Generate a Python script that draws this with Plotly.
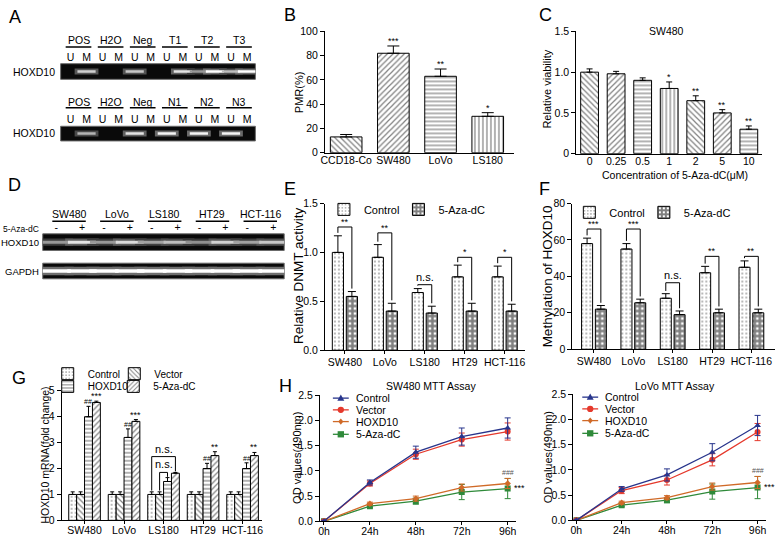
import plotly.graph_objects as go

W, H = 778, 542
FONT = "Arial, Liberation Sans, sans-serif"

# ---------------- data ----------------
# Panel A (MSP gels)
A_groups_top = ["POS", "H2O", "Neg", "T1", "T2", "T3"]
A_groups_bot = ["POS", "H2O", "Neg", "N1", "N2", "N3"]
A_lane_labels = ["U", "M"]
A_band_top = [0, 0.75, 0, 0, 0.7, 0, 0, 0.85, 0.45, 1.0, 0.65, 1.0]
A_band_bot = [0, 0.6, 0, 0, 0.85, 0, 0.95, 0, 0.95, 0, 0.95, 0]

# Panel B
B_cats = ["CCD18-Co", "SW480", "LoVo", "LS180"]
B_vals = [13, 82, 63, 30]
B_err = [2, 6, 6, 3]
B_sig = ["", "***", "**", "*"]
B_patterns = ["\\", "/", "-", "|"]

# Panel C
C_cats = ["0", "0.25", "0.5", "1", "2", "5", "10"]
C_vals = [1.0, 0.98, 0.9, 0.8, 0.65, 0.5, 0.3]
C_err = [0.04, 0.03, 0.03, 0.08, 0.06, 0.04, 0.04]
C_sig = ["", "", "", "*", "**", "**", "**"]
C_patterns = ["\\", "/", "-", "|", "\\", "/", "-"]

# Panel D (RT-PCR gels)
D_groups = ["SW480", "LoVo", "LS180", "HT29", "HCT-116"]
D_lane_labels = ["-", "+"]
D_hoxd10 = [0.45, 0.85, 0.45, 0.8, 0.5, 0.65, 0.4, 0.75, 0.5, 0.7]
D_gapdh = [1.0, 1.0, 1.0, 1.0, 1.0, 1.0, 1.0, 1.0, 1.0, 1.0]

# Panels E / F
cell_lines = ["SW480", "LoVo", "LS180", "HT29", "HCT-116"]
E_ctrl = [1.0, 0.95, 0.59, 0.75, 0.75]
E_ctrl_err = [0.17, 0.13, 0.04, 0.12, 0.11]
E_aza = [0.55, 0.40, 0.38, 0.40, 0.40]
E_aza_err = [0.05, 0.08, 0.07, 0.08, 0.07]
E_bracket = [1.26, 1.20, 0.67, 0.95, 0.95]
E_sig = ["**", "**", "n.s.", "*", "*"]

F_ctrl = [58, 55, 28, 42, 45]
F_ctrl_err = [3, 3, 2.5, 3.5, 3.5]
F_aza = [22, 25.5, 19, 20, 20]
F_aza_err = [2, 2, 2, 2, 2]
F_bracket = [66, 66, 36.5, 51, 51]
F_sig = ["***", "***", "n.s.", "**", "**"]

# Panel G
G_ctrl = [1.0, 1.0, 1.0, 1.0, 1.0]
G_ctrl_err = [0.1, 0.1, 0.1, 0.1, 0.1]
G_vec = [1.0, 1.0, 1.0, 1.0, 1.0]
G_vec_err = [0.1, 0.1, 0.1, 0.1, 0.1]
G_hox = [4.0, 3.2, 1.5, 2.0, 2.0]
G_hox_err = [0.4, 0.33, 0.15, 0.2, 0.22]
G_aza = [4.55, 3.82, 1.82, 2.5, 2.5]
G_aza_err = [0.05, 0.07, 0.03, 0.15, 0.12]
G_hox_sig = ["##", "##", "", "##", "##"]
G_aza_sig = ["***", "***", "", "**", "**"]
G_ns_outer = 2.46
G_ns_inner = 1.85

# Panel H (MTT)
hours = [0, 24, 48, 72, 96]
hour_labels = ["0h", "24h", "48h", "72h", "96h"]
H1 = {
    "Control": ([0, 0.77, 1.37, 1.68, 1.85], [0.02, 0.05, 0.12, 0.17, 0.2]),
    "Vector": ([0, 0.75, 1.33, 1.62, 1.78], [0.02, 0.05, 0.1, 0.13, 0.17]),
    "HOXD10": ([0, 0.35, 0.45, 0.67, 0.75], [0.01, 0.03, 0.05, 0.07, 0.1]),
    "5-Aza-dC": ([0, 0.3, 0.4, 0.58, 0.65], [0.01, 0.03, 0.06, 0.15, 0.2]),
}
H2 = {
    "Control": ([0, 0.62, 0.9, 1.35, 1.88], [0.02, 0.05, 0.12, 0.17, 0.2]),
    "Vector": ([0, 0.59, 0.8, 1.2, 1.75], [0.02, 0.06, 0.1, 0.12, 0.17]),
    "HOXD10": ([0, 0.35, 0.45, 0.67, 0.75], [0.01, 0.03, 0.04, 0.07, 0.12]),
    "5-Aza-dC": ([0, 0.3, 0.4, 0.57, 0.65], [0.01, 0.03, 0.05, 0.15, 0.22]),
}
H_colors = {"Control": "#28358c", "Vector": "#e5392c", "HOXD10": "#d06a28", "5-Aza-dC": "#2f8a3a"}
H_symbols = {"Control": "triangle-up", "Vector": "circle", "HOXD10": "diamond", "5-Aza-dC": "square"}

# ---------------- helpers ----------------
def px(x):
    return x / W

def py(y):
    return 1 - y / H

def xd(a, b):
    return [px(a), px(b)]

def yd(top, bot):
    return [py(bot), py(top)]

fig = go.Figure()
axes = {}
annotations = []
shapes = []
legends = {}
tickfont = dict(size=10.5, family=FONT, color="black")

def sfx(i):
    return "" if i == 1 else str(i)

def add_axes(i, xdom, ydom, xkw, ykw):
    s = sfx(i)
    axes["xaxis" + s] = dict(domain=xdom, anchor="y" + s, **xkw)
    axes["yaxis" + s] = dict(domain=ydom, anchor="x" + s, **ykw)

def ystyle(rng, **kw):
    d = dict(range=rng, showline=True, linecolor="black", linewidth=1, ticks="outside",
             ticklen=4, tickwidth=1, tickcolor="black", showgrid=False, zeroline=False,
             tickfont=tickfont, fixedrange=True)
    d.update(kw)
    return d

def xstyle(rng, tickvals, ticktext, ticks="outside", **kw):
    d = dict(range=rng, showline=True, linecolor="black", linewidth=1, ticks=ticks,
             ticklen=3, tickwidth=1, tickcolor="black", showgrid=False, zeroline=False,
             tickvals=tickvals, ticktext=ticktext, tickfont=tickfont, fixedrange=True)
    d.update(kw)
    return d

def ann(text, x, y, size=10.5, **kw):
    d = dict(text=text, x=px(x), y=py(y), xref="paper", yref="paper", showarrow=False,
             xanchor="center", yanchor="middle",
             font=dict(size=size, family=FONT, color="black"))
    d.update(kw)
    annotations.append(d)

def data_ann(i, text, x, y, size=9, **kw):
    s = sfx(i)
    d = dict(text=text, x=x, y=y, xref="x" + s, yref="y" + s, showarrow=False,
             xanchor="center", yanchor="bottom",
             font=dict(size=size, family=FONT, color="black"))
    d.update(kw)
    annotations.append(d)

def add_legend(key, x, y, size=11):
    legends[key] = dict(orientation="h", bgcolor="rgba(0,0,0,0)", xanchor="left",
                        yanchor="middle", x=px(x), y=py(y),
                        font=dict(size=size, family=FONT, color="black"),
                        itemclick=False, itemdoubleclick=False)

# ---------------- gels ----------------
def gel(i, xdom, ydom, rng, lane_x, lane_text, show_labels, intensity, band_len, band_w):
    s = sfx(i)
    add_axes(i, xdom, ydom,
             dict(range=rng, showgrid=False, zeroline=False, showline=False, ticks="",
                  side="top", tickvals=lane_x, ticktext=lane_text,
                  showticklabels=show_labels, tickfont=tickfont, fixedrange=True),
             dict(range=[0, 1], visible=False, fixedrange=True))
    shapes.append(dict(type="rect", xref="x" + s + " domain", yref="y" + s + " domain",
                       x0=0, x1=1, y0=0, y1=1, fillcolor="#0a0a0a",
                       line=dict(color="#6a6a6a", width=1), layer="below"))
    xs = [x for x, v in zip(lane_x, intensity) if v > 0]
    vs = [v for v in intensity if v > 0]
    glow = ["rgb({0},{0},{0})".format(int(20 + 90 * v)) for v in vs]
    core = ["rgb({0},{0},{0})".format(int(70 + 185 * v)) for v in vs]
    for cols, lw, extra in [(glow, band_w * 2.4, 4), (core, band_w, 0)]:
        fig.add_trace(go.Scatter(
            x=xs, y=[0.5] * len(xs), mode="markers", xaxis="x" + s, yaxis="y" + s,
            marker=dict(symbol="line-ew", size=band_len + extra, color=cols,
                        line=dict(color=cols, width=lw)),
            showlegend=False, hoverinfo="skip"))

def gel_groups(i, groups, y_text, y_line, half):
    s = sfx(i)
    for g, name in enumerate(groups):
        annotations.append(dict(text=name, x=g, y=py(y_text), xref="x" + s, yref="paper",
                                showarrow=False, xanchor="center", yanchor="middle",
                                font=dict(size=10.5, family=FONT, color="black")))
        shapes.append(dict(type="line", xref="x" + s, yref="paper", x0=g - half, x1=g + half,
                           y0=py(y_line), y1=py(y_line), line=dict(color="black", width=1.5)))

A_lane_x = [g + o for g in range(len(A_groups_top)) for o in (-0.25, 0.25)]
A_text = A_lane_labels * len(A_groups_top)
A_rng = [-0.557, 5.51]
gel(1, xd(57, 253), yd(59, 75), A_rng, A_lane_x, A_text, True, A_band_top, 13, 2.5)
gel(2, xd(57, 253), yd(123, 138), A_rng, A_lane_x, A_text, True, A_band_bot, 13, 2.5)
gel_groups(1, A_groups_top, 35, 42, 0.4)
gel_groups(2, A_groups_bot, 98, 104, 0.4)
ann("HOXD10", 53, 67, 10.5, xanchor="right")
ann("HOXD10", 53, 130, 10.5, xanchor="right")

D_lane_x = [g + o for g in range(len(D_groups)) for o in (-0.27, 0.27)]
D_text = D_lane_labels * len(D_groups)
D_rng = [-0.55, 4.5]
gel(5, xd(39, 282), yd(233, 250), D_rng, D_lane_x, D_text, True, D_hoxd10, 20, 3)
gel(6, xd(39, 282), yd(263, 279), D_rng, D_lane_x, D_text, False, D_gapdh, 21, 3.5)
gel_groups(5, D_groups, 213, 220, 0.35)
ann("5-Aza-dC", 37, 228, 8.5, xanchor="right")
ann("HOXD10", 37, 242, 9.5, xanchor="right")
ann("GAPDH", 37, 271, 9.5, xanchor="right")

# ---------------- single-series bar panels ----------------
def single_bars(i, cats, vals, err, sig, patterns, capw):
    s = sfx(i)
    xs = list(range(len(cats)))
    fig.add_trace(go.Bar(
        x=xs, y=vals, width=0.67, xaxis="x" + s, yaxis="y" + s, showlegend=False,
        marker=dict(color="white", line=dict(color="black", width=1),
                    pattern=dict(shape=patterns, fgcolor="black", bgcolor="white",
                                 size=4, solidity=0.3)),
        error_y=dict(type="data", array=err, arrayminus=[0] * len(err), symmetric=False,
                     color="black", thickness=1, width=capw)))
    for x, v, e, t in zip(xs, vals, err, sig):
        if t:
            data_ann(i, t, x, v + e, 9, yshift=-2)
    return xs

xs = single_bars(3, B_cats, B_vals, B_err, B_sig, B_patterns, 6)
add_axes(3, xd(323, 513), yd(26, 150),
         xstyle([-0.45, 3.55], xs, B_cats, ticks="", ticklabelstandoff=-2),
         ystyle([0, 100], dtick=20))
xs = single_bars(4, C_cats, C_vals, C_err, C_sig, C_patterns, 3)
add_axes(4, xd(576, 763), yd(26, 151),
         xstyle([-0.5, 6.5], xs, C_cats, ticks="", ticklabelstandoff=-2),
         ystyle([0, 1.5], tickvals=[0, 0.5, 1.0, 1.5], ticktext=["0", "0.5", "1.0", "1.5"]))
ann("PMR(%)", 297, 88, 11, textangle=-90)
ann("Relative viability", 547, 85, 11, textangle=-90)
ann("SW480", 667, 26, 10.5)
ann("Concentration of 5-Aza-dC(μM)", 675, 173, 10.5)

# ---------------- grouped panels E/F ----------------
CTRL_PAT = dict(shape=".", fgcolor="#444", bgcolor="white", size=4, solidity=0.2)
AZA_PAT = dict(shape="+", fgcolor="black", bgcolor="white", size=5, solidity=0.75)

def paired(i, legs, ctrl, ctrl_err, aza, aza_err, tops, sig, gap, capw):
    s = sfx(i)
    xs = list(range(len(ctrl)))
    for name, vals, err, pat, off, leg in [("Control", ctrl, ctrl_err, CTRL_PAT, -0.315, legs[0]),
                                            ("5-Aza-dC", aza, aza_err, AZA_PAT, 0.035, legs[1])]:
        fig.add_trace(go.Bar(
            x=xs, y=vals, width=0.28, offset=off, name=name, legend=leg,
            xaxis="x" + s, yaxis="y" + s,
            marker=dict(color="white", line=dict(color="black", width=1), pattern=pat),
            error_y=dict(type="data", array=err, arrayminus=[0] * len(err), symmetric=False,
                         color="black", thickness=1, width=capw)))
    bx, by = [], []
    for g in xs:
        bx += [g - 0.175, g - 0.175, g + 0.175, g + 0.175, None]
        by += [ctrl[g] + ctrl_err[g] + gap, tops[g], tops[g], aza[g] + aza_err[g] + gap, None]
        t = sig[g]
        data_ann(i, t, g, tops[g], 11 if t == "n.s." else 9, yshift=-2 if t != "n.s." else 0)
    fig.add_trace(go.Scatter(x=bx, y=by, mode="lines", line=dict(color="black", width=1),
                             xaxis="x" + s, yaxis="y" + s, showlegend=False, hoverinfo="skip"))
    return xs

xs = paired(7, ("legend", "legend2"), E_ctrl, E_ctrl_err, E_aza, E_aza_err, E_bracket, E_sig, 0.03, 4)
add_axes(7, xd(323, 524), yd(202, 352),
         xstyle([-0.5, 4.5], xs, cell_lines, ticklabelstandoff=-1),
         ystyle([0, 1.5], dtick=0.5, tickformat=".1f"))
xs = paired(8, ("legend3", "legend4"), F_ctrl, F_ctrl_err, F_aza, F_aza_err, F_bracket, F_sig, 1.5, 4)
add_axes(8, xd(572, 776), yd(202, 351),
         xstyle([-0.55, 4.6], xs, cell_lines, ticklabelstandoff=-1),
         ystyle([0, 80], dtick=20))
ann("Relative DNMT activity", 297, 276, 13.5, textangle=-90)
ann("Methylation of HOXD10", 547, 276, 13.5, textangle=-90)
add_legend("legend", 322, 208)
add_legend("legend2", 397, 208)
add_legend("legend3", 569, 211)
add_legend("legend4", 644, 211)

# ---------------- panel G ----------------
G_list = [("Control", G_ctrl, G_ctrl_err, CTRL_PAT, -0.4, "legend5"),
          ("Vector", G_vec, G_vec_err, dict(shape="\\", fgcolor="black", bgcolor="white", size=4, solidity=0.3), -0.2, "legend6"),
          ("HOXD10", G_hox, G_hox_err, dict(shape="-", fgcolor="black", bgcolor="white", size=4, solidity=0.3), 0.0, "legend7"),
          ("5-Aza-dC", G_aza, G_aza_err, dict(shape="/", fgcolor="black", bgcolor="white", size=4, solidity=0.3), 0.2, "legend8")]
xs = list(range(len(cell_lines)))
for name, vals, err, pat, off, leg in G_list:
    fig.add_trace(go.Bar(
        x=xs, y=vals, width=0.2, offset=off, name=name, legend=leg, xaxis="x9", yaxis="y9",
        marker=dict(color="white", line=dict(color="black", width=1), pattern=pat),
        error_y=dict(type="data", array=err, arrayminus=[0] * len(err), symmetric=False,
                     color="black", thickness=1, width=2)))
add_legend("legend5", 44, 376, 10)
add_legend("legend6", 111, 376, 10)
add_legend("legend7", 44, 389, 10)
add_legend("legend8", 110, 389, 10)
for g in xs:
    if G_hox_sig[g]:
        data_ann(9, G_hox_sig[g], g + 0.1, G_hox[g] + G_hox_err[g], 7, yshift=-1)
    if G_aza_sig[g]:
        data_ann(9, G_aza_sig[g], g + 0.3, G_aza[g] + G_aza_err[g], 9, yshift=-2)
g = 2
gx = [g - 0.3, g - 0.3, g + 0.3, g + 0.3, None, g - 0.1, g - 0.1, g + 0.1, g + 0.1]
gy = [G_ctrl[g] + G_ctrl_err[g] + 0.05, G_ns_outer, G_ns_outer, G_aza[g] + G_aza_err[g] + 0.04, None,
      G_vec[g] + G_vec_err[g] + 0.05, G_ns_inner, G_ns_inner, G_hox[g] + G_hox_err[g] + 0.03]
fig.add_trace(go.Scatter(x=gx, y=gy, mode="lines", line=dict(color="black", width=1),
                         xaxis="x9", yaxis="y9", showlegend=False, hoverinfo="skip"))
data_ann(9, "n.s.", g, G_ns_outer, 11)
data_ann(9, "n.s.", g, G_ns_inner, 11)
add_axes(9, xd(58, 260), yd(393.5, 526),
         xstyle([-0.58, 4.5], xs, cell_lines, ticklabelstandoff=-3),
         ystyle([0, 5], dtick=1))
ann("HOXD10 mRNA(fold change)", 41, 459, 10.5, textangle=-90)

# ---------------- panel H ----------------
def mtt(i, data):
    s = sfx(i)
    for name in ["5-Aza-dC", "HOXD10", "Vector", "Control"]:
        vals, err = data[name]
        c = H_colors[name]
        fig.add_trace(go.Scatter(
            x=hours, y=vals, mode="lines+markers", xaxis="x" + s, yaxis="y" + s,
            line=dict(color=c, width=1.3), showlegend=False,
            marker=dict(symbol=H_symbols[name], size=6 if name != "HOXD10" else 5, color=c),
            error_y=dict(type="data", array=err, color=c, thickness=1, width=3)))

mtt(10, H1)
add_axes(10, xd(318, 515), yd(398, 527),
         xstyle([-2.1, 100.2], hours, hour_labels, ticklabelstandoff=-3),
         ystyle([0, 2.5], dtick=0.5, tickformat=".1f"))
mtt(11, H2)
add_axes(11, xd(573, 767), yd(397, 526),
         xstyle([-1.6, 100.5], hours, hour_labels, ticklabelstandoff=-3),
         ystyle([0, 2.5], dtick=0.5, tickformat=".1f"))
for i, d in [(10, H1), (11, H2)]:
    v, e = d["HOXD10"]
    data_ann(i, "###", 96, v[-1] + e[-1], 7, font=dict(size=7, family=FONT, color="#555"))
    v, e = d["5-Aza-dC"]
    data_ann(i, "***", 96, v[-1] - 0.12, 9, xanchor="left", xshift=4)
ann("SW480 MTT Assay", 430, 389, 10.5)
ann("LoVo MTT Assay", 675, 389, 10.5)
ann("OD values(490nm)", 295, 462, 11, textangle=-90)
ann("OD values(490nm)", 547, 461, 11, textangle=-90)

# manual legends for H
def marker_shape(kind, cx, cy, color, r=3.2):
    if kind == "circle":
        return dict(type="circle", xref="paper", yref="paper", x0=px(cx - r), x1=px(cx + r),
                    y0=py(cy + r), y1=py(cy - r), fillcolor=color, line=dict(color=color, width=0))
    if kind == "square":
        return dict(type="rect", xref="paper", yref="paper", x0=px(cx - r), x1=px(cx + r),
                    y0=py(cy + r), y1=py(cy - r), fillcolor=color, line=dict(color=color, width=0))
    if kind == "triangle-up":
        pts = [(cx, cy - r - 0.5), (cx + r + 0.3, cy + r - 0.5), (cx - r - 0.3, cy + r - 0.5)]
    else:
        pts = [(cx, cy - r), (cx + r * 0.8, cy), (cx, cy + r), (cx - r * 0.8, cy)]
    path = "M " + " L ".join("{:.5f},{:.5f}".format(px(a), py(b)) for a, b in pts) + " Z"
    return dict(type="path", xref="paper", yref="paper", path=path, fillcolor=color,
                line=dict(color=color, width=0))

for (x0, rows) in [(331, [401, 413, 425, 438]), (582, [400, 412, 424, 437])]:
    for name, yy in zip(["Control", "Vector", "HOXD10", "5-Aza-dC"], rows):
        c = H_colors[name]
        shapes.append(dict(type="line", xref="paper", yref="paper", x0=px(x0), x1=px(x0 + 16),
                           y0=py(yy), y1=py(yy), line=dict(color=c, width=1.3)))
        shapes.append(marker_shape(H_symbols[name], x0 + 8, yy, c))
        ann(name, x0 + 21, yy, 10.5, xanchor="left")

# panel letters
for t, x, y in [("A", 11, 11), ("B", 288, 9), ("C", 545, 9), ("D", 11, 183),
                ("E", 288, 187), ("F", 544, 187), ("G", 15, 380), ("H", 283, 389)]:
    ann(t, x, y, 18)

fig.update_layout(
    width=W, height=H, margin=dict(l=0, r=0, t=0, b=0),
    paper_bgcolor="white", plot_bgcolor="white", barmode="overlay",
    font=dict(family=FONT, color="black"),
    annotations=annotations, shapes=shapes,
    **legends,
    **axes,
)
# remove the browser's default 8px page margin so the figure sits at the window origin
fig.write_html("out.html", config={"displayModeBar": False},
               post_script="document.body.style.margin='0px';")
